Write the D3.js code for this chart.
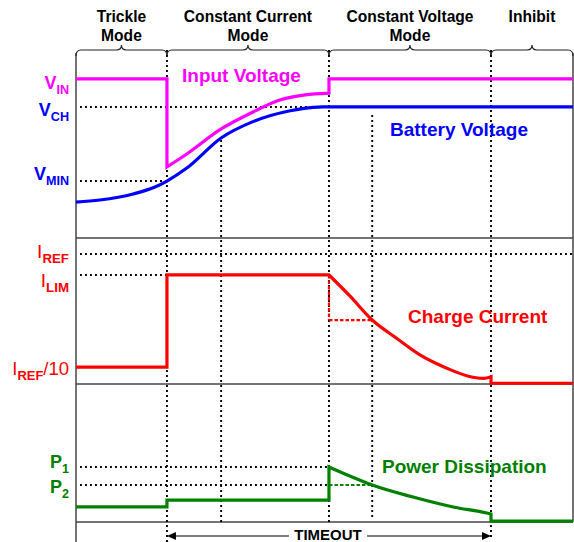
<!DOCTYPE html>
<html>
<head>
<meta charset="utf-8">
<script src="https://cdn.jsdelivr.net/npm/d3@7"></script>
<style>
  body { margin: 0; background: #fff; }
  text { font-family: "Liberation Sans", Arial, sans-serif; }
</style>
</head>
<body>
<div id="chart"></div>
<script>
// time axis in % of the charge cycle, levels in % of each panel height
var phases = [["Trickle", "Mode"], ["Constant Current", "Mode"], ["Constant Voltage", "Mode"], ["Inhibit"]];
var phaseEdges = [0, 18.3, 50.9, 83.5, 100];
var markTimes = [29.2, 59.6];          // the two extra dotted verticals

// top panel: voltages
var VIN = 84.6, VCH = 69.7, VMIN = 30.3;
var battT = [0, 4.8, 11.5, 15.9, 18.3, 22.3, 29.2, 35.6, 43.1, 47.7, 49.7, 100];
var battV = [19.1, 20.2, 23.4, 27.1, 30.3, 37.2, 53.2, 61.9, 67.7, 69.5, 69.7, 69.7];
var vinT = [18.3, 22.3, 29.2, 35.6, 41.0, 46.1, 50.9];
var vinV = [37.8, 44.7, 58.0, 67.0, 73.4, 76.1, 77.1];

// middle panel: charge current
var IREF = 89.0, ILIM = 74.7, IPRE = 11.6, IOFF = 0.5, IHALF = 43.8;
var curT = [50.9, 55.1, 59.6, 64.5, 69.2, 74.6, 78.6, 82.0, 83.5];
var curV = [74.7, 60.3, 43.8, 31.3, 19.9, 10.8, 5.7, 3.9, 5.0];

// bottom panel: power dissipation
var P1 = 39.9, P2 = 26.8, PTRICKLE = 10.9, PCC = 15.9, POFF = 0.7;
var powT = [50.9, 55.1, 59.6, 67.8, 75.9, 82.7, 83.5];
var powV = [39.9, 33.3, 26.8, 18.1, 10.9, 6.5, 5.8];

var width = 574, height = 542;
var svg = d3.select("#chart").append("svg")
  .attr("width", width).attr("height", height);

var x = d3.scaleLinear().domain([0, 100]).range([76, 573]);
var yV = d3.scaleLinear().domain([0, 100]).range([238, 50]);
var yI = d3.scaleLinear().domain([0, 100]).range([384, 238]);
var yP = d3.scaleLinear().domain([0, 100]).range([522, 384]);

var MAG = "#ff00ff", BLUE = "#0000ff", RED = "#ff0000", GREEN = "#008000";

function dotted(x1, y1, x2, y2) {
  svg.append("line")
    .attr("x1", x1).attr("y1", y1).attr("x2", x2).attr("y2", y2)
    .attr("stroke", "#000").attr("stroke-width", 1.9)
    .attr("stroke-dasharray", "1.9,3.1");
}
function dashed(x1, y1, x2, y2, col) {
  svg.append("line")
    .attr("x1", x1).attr("y1", y1).attr("x2", x2).attr("y2", y2)
    .attr("stroke", col).attr("stroke-width", 2.2)
    .attr("stroke-dasharray", "3.5,2");
}

var lin = d3.line().x(d => x(d[0])).y(d => d[1]);
var smooth = d3.line().x(d => x(d[0])).y(d => d[1]).curve(d3.curveMonotoneX);
function join() {
  // glue path strings into one continuous path
  return Array.from(arguments).map((p, i) => i ? p.replace(/^M/, "L") : p).join("");
}
function trace(d, col) {
  svg.append("path").attr("d", d).attr("fill", "none")
    .attr("stroke", col).attr("stroke-width", 3.2)
    .attr("stroke-linejoin", "miter");
}

// panel frame
[yV(0), yI(0), yP(0)].forEach(function (yy) {
  svg.append("line").attr("x1", 76).attr("x2", 573).attr("y1", yy).attr("y2", yy)
    .attr("stroke", "#444").attr("stroke-width", 1.5);
});
svg.append("line").attr("x1", 76).attr("x2", 76).attr("y1", 53).attr("y2", 542)
  .attr("stroke", "#444").attr("stroke-width", 1.5);
svg.append("line").attr("x1", 573).attr("x2", 573).attr("y1", 53).attr("y2", 522)
  .attr("stroke", "#444").attr("stroke-width", 1.5);

// braces + phase titles
phases.forEach(function (lines, i) {
  var x0 = x(phaseEdges[i]), x1 = x(phaseEdges[i + 1]), m = (x0 + x1) / 2, b = 50;
  svg.append("path")
    .attr("d", "M" + x0 + "," + (b + 6) + "Q" + x0 + "," + b + " " + (x0 + 5) + "," + b +
      "L" + (m - 5) + "," + b + "Q" + m + "," + b + " " + m + "," + (b - 5) +
      "Q" + m + "," + b + " " + (m + 5) + "," + b +
      "L" + (x1 - 5) + "," + b + "Q" + x1 + "," + b + " " + x1 + "," + (b + 6))
    .attr("fill", "none").attr("stroke", "#222").attr("stroke-width", 1.2);
  lines.forEach(function (t, j) {
    svg.append("text").attr("x", m).attr("y", 22 + j * 19)
      .attr("text-anchor", "middle").attr("font-size", 15.6).attr("font-weight", "bold")
      .text(t);
  });
});

// dotted guides
dotted(x(phaseEdges[1]), 50, x(phaseEdges[1]), 542);
dotted(x(markTimes[0]), 140, x(markTimes[0]), 522);
dotted(x(phaseEdges[2]), 50, x(phaseEdges[2]), 522);
dotted(x(markTimes[1]), 115, x(markTimes[1]), 519);
dotted(x(phaseEdges[3]), 50, x(phaseEdges[3]), 540);

dotted(80, yV(VCH), 320, yV(VCH));
dotted(80, yV(VMIN), x(phaseEdges[1]), yV(VMIN));
dotted(80, yI(IREF), 573, yI(IREF));
dotted(80, yI(ILIM), x(phaseEdges[1]), yI(ILIM));
dotted(80, yP(P1), x(phaseEdges[2]), yP(P1));
dotted(80, yP(P2), x(phaseEdges[2]), yP(P2));

// dashed reference drops
dashed(x(phaseEdges[2]), yI(ILIM), x(phaseEdges[2]), yI(IHALF), RED);
dashed(x(phaseEdges[2]), yI(IHALF), x(markTimes[1]), yI(IHALF), RED);
dashed(x(phaseEdges[2]), yP(P2), x(markTimes[1]), yP(P2), GREEN);

// battery voltage
trace(smooth(battT.map((t, i) => [t, yV(battV[i])])), BLUE);

// input voltage
trace(join(
  lin([[0, yV(VIN)], [phaseEdges[1], yV(VIN)], [phaseEdges[1], yV(vinV[0])]]),
  smooth(vinT.map((t, i) => [t, yV(vinV[i])])),
  lin([[phaseEdges[2], yV(VIN)], [100, yV(VIN)]])
), MAG);

// charge current
trace(join(
  lin([[0, yI(IPRE)], [phaseEdges[1], yI(IPRE)], [phaseEdges[1], yI(ILIM)], [phaseEdges[2], yI(ILIM)]]),
  smooth(curT.map((t, i) => [t, yI(curV[i])])),
  lin([[phaseEdges[3], yI(IOFF)], [100, yI(IOFF)]])
), RED);

// power dissipation
trace(join(
  lin([[0, yP(PTRICKLE)], [phaseEdges[1], yP(PTRICKLE)], [phaseEdges[1], yP(PCC)], [phaseEdges[2], yP(PCC)]]),
  smooth(powT.map((t, i) => [t, yP(powV[i])])),
  lin([[phaseEdges[3], yP(POFF)], [100, yP(POFF)]])
), GREEN);

// level labels
function levelLabel(main, sub, tail, yy, col, bold, size) {
  var t = svg.append("text").attr("x", 69).attr("y", yy)
    .attr("text-anchor", "end").attr("fill", col)
    .attr("font-weight", bold ? "bold" : "normal").attr("font-size", size);
  t.append("tspan").text(main);
  t.append("tspan").attr("dy", 5).attr("font-size", size * 0.7).attr("font-weight", "bold").text(sub);
  if (tail) t.append("tspan").attr("dy", -5).text(tail);
}
levelLabel("V", "IN", null, yV(VIN) + 10, MAG, true, 18);
levelLabel("V", "CH", null, yV(VCH) + 9, BLUE, true, 18);
levelLabel("V", "MIN", null, yV(VMIN) - 1, BLUE, true, 18);
levelLabel("I", "REF", null, yI(IREF) + 4, RED, false, 19);
levelLabel("I", "LIM", null, yI(ILIM) + 12, RED, false, 19);
levelLabel("I", "REF", "/10", yI(IPRE) + 8, RED, false, 18.5);
levelLabel("P", "1", null, yP(P1) + 1, GREEN, true, 18);
levelLabel("P", "2", null, yP(P2) + 8, GREEN, true, 18);

// trace names
function traceName(s, xx, yy, col) {
  svg.append("text").attr("x", xx).attr("y", yy).attr("fill", col)
    .attr("font-size", 19).attr("font-weight", "bold").text(s);
}
traceName("Input Voltage", 182, 82, MAG);
traceName("Battery Voltage", 390, 136, BLUE);
traceName("Charge Current", 408, 323, RED);
traceName("Power Dissipation", 382, 473, GREEN);

// timeout arrow
var ay = 536, ax0 = x(phaseEdges[1]), ax1 = x(phaseEdges[3]);
svg.append("line").attr("x1", ax0 + 6).attr("x2", 289).attr("y1", ay).attr("y2", ay)
  .attr("stroke", "#000").attr("stroke-width", 1.2);
svg.append("line").attr("x1", 367).attr("x2", ax1 - 6).attr("y1", ay).attr("y2", ay)
  .attr("stroke", "#000").attr("stroke-width", 1.2);
svg.append("path").attr("d", "M" + ax0 + "," + ay + "l9,-4l0,8z").attr("fill", "#000");
svg.append("path").attr("d", "M" + ax1 + "," + ay + "l-9,-4l0,8z").attr("fill", "#000");
svg.append("text").attr("x", 328).attr("y", 540).attr("text-anchor", "middle")
  .attr("font-size", 15).attr("font-weight", "bold").text("TIMEOUT");
</script>
</body>
</html>
